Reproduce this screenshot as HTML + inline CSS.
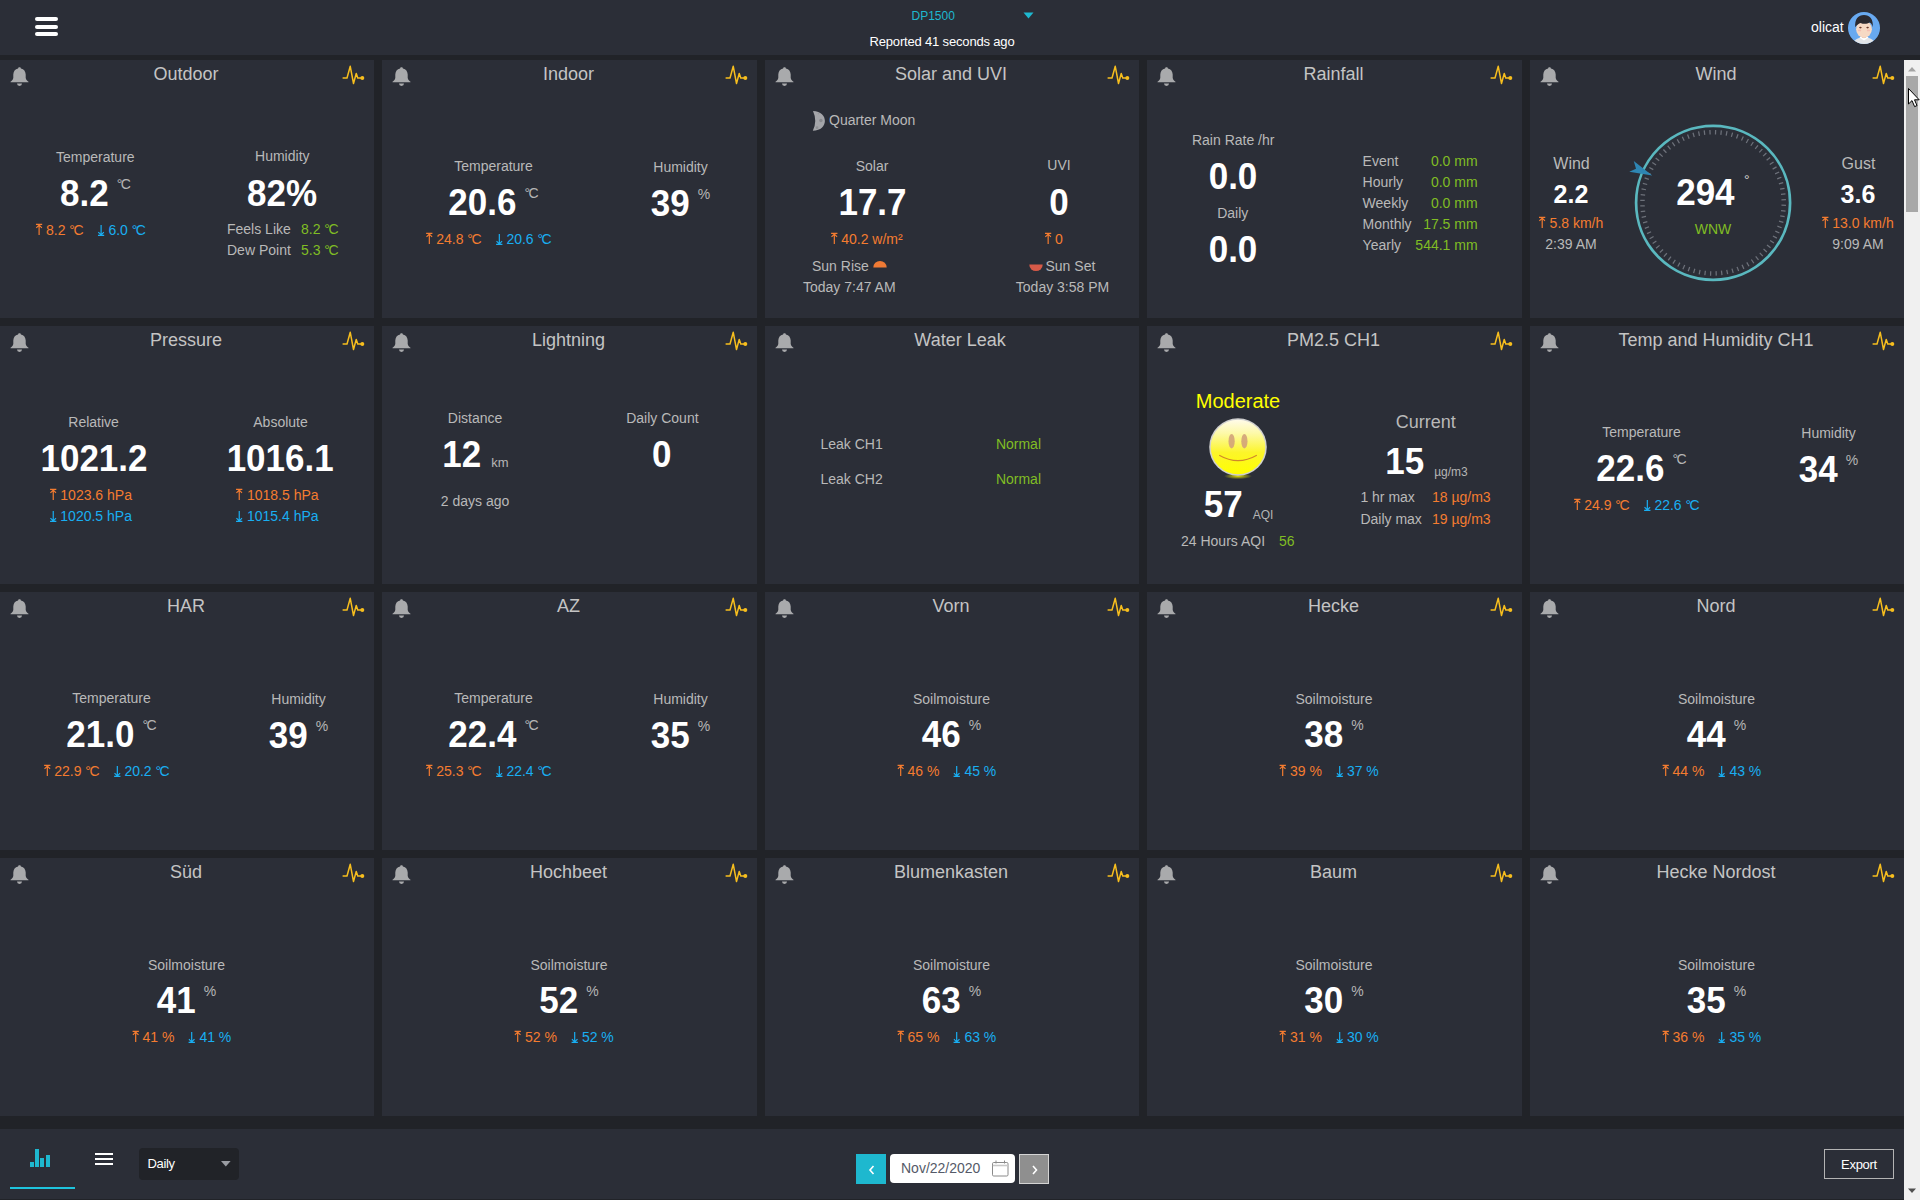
<!DOCTYPE html>
<html><head><meta charset="utf-8"><title>Dashboard</title>
<style>
*{margin:0;padding:0;box-sizing:border-box}
html,body{width:1920px;height:1200px;overflow:hidden;background:#212328;
font-family:"Liberation Sans",sans-serif;font-kerning:normal}
.t{position:absolute;white-space:nowrap;line-height:1}
.abs{position:absolute}
.ic{position:absolute;line-height:0}
.card{position:absolute;height:258px;background:#2b2e37}
.u{position:relative;font-weight:normal}
.dc{display:inline-block;letter-spacing:0}
.dc i{font-style:normal;margin-left:-1.6px}
.ar{display:inline-block;vertical-align:baseline;position:relative;top:0px}
.ar.dn{top:0.8px}
.ar path{stroke:currentColor;stroke-width:1.2;fill:none}
#hdr{position:absolute;left:0;top:0;width:1920px;height:55px;background:#2b2e37}
#sb{position:absolute;left:1904px;top:60px;width:16px;height:1140px;background:#f0f0f0}
#foot{position:absolute;left:0;top:1129px;width:1904px;height:70px;background:#2b2e37}
</style></head><body>
<div id="hdr"></div>
<div class="abs" style="left:35px;top:17px;width:23px;height:4px;border-radius:2px;background:#fff"></div>
<div class="abs" style="left:35px;top:25px;width:23px;height:4px;border-radius:2px;background:#fff"></div>
<div class="abs" style="left:35px;top:32px;width:23px;height:4px;border-radius:2px;background:#fff"></div>
<div class="t" style="left:911.5px;top:10px;font-size:12px;color:#1eb8cf">DP1500</div>
<svg class="abs" style="left:1023px;top:12px" width="11" height="7" viewBox="0 0 11 7"><path d="M0.5 0.5H10.5L5.5 6.5Z" fill="#1eb8cf"/></svg>
<div class="t" style="left:869.5px;top:35px;font-size:13px;color:#fff;letter-spacing:-0.17px">Reported 41 seconds ago</div>
<div class="t" style="left:1811px;top:20px;font-size:14px;color:#fff">olicat</div>
<div class="ic" style="left:1848px;top:12px"><svg width="32" height="32" viewBox="0 0 32 32"><defs><clipPath id="av"><circle cx="16" cy="16" r="16"/></clipPath></defs><g clip-path="url(#av)"><rect width="32" height="32" fill="#68a9f0"/><path d="M4 32C6 27.6 10.5 25.3 16 25.3S26 27.6 28 32Z" fill="#e3e5e8"/><path d="M11.5 25.6L16 28.5L20.5 25.6L19.5 24.6L16 26.4L12.5 24.6Z" fill="#ffffff"/><rect x="14" y="21.5" width="4" height="4.5" fill="#efcab2"/><ellipse cx="16" cy="17.2" rx="7.9" ry="8.4" fill="#f6d9c4"/><path d="M7.3 15.2C6.4 7.2 10.4 3 16 3S25.6 7.2 24.7 15.2C24.1 12.6 23 11.2 21.6 10.6C19.2 12.1 15.2 12.2 12.6 10.9C11 11.6 8.6 12.7 7.3 15.2Z" fill="#2b2a30"/><ellipse cx="12.4" cy="15.6" rx="1.3" ry="0.8" fill="#6e3c2c"/><ellipse cx="19.6" cy="15.6" rx="1.3" ry="0.8" fill="#6e3c2c"/><ellipse cx="11.6" cy="18.4" rx="1.6" ry="0.9" fill="#f2a8a2" opacity="0.55"/><ellipse cx="20.4" cy="18.4" rx="1.6" ry="0.9" fill="#f2a8a2" opacity="0.55"/></g></svg></div>
<div class="card" style="left:0px;top:60px;width:374px"></div>
<div class="ic" style="left:9.5px;top:66.5px"><svg width="19" height="19" viewBox="0 0 19 19"><path d="M9.5 0.3C8.6 0.3 8.2 0.9 8.1 1.4C5 2 3.4 4.4 3.3 7.4V10.8C3.2 12.6 1.8 13.8 0.5 14.7V15.3H18.5V14.7C17.2 13.8 15.8 12.6 15.7 10.8V7.4C15.6 4.4 14 2 10.9 1.4C10.8 0.9 10.4 0.3 9.5 0.3Z" fill="#a9aaac"/><path d="M7 16.6H12A2.5 2.3 0 0 1 7 16.6Z" fill="#a9aaac"/></svg></div>
<div class="ic" style="left:342px;top:65.3px"><svg width="24" height="20" viewBox="0 0 24 20"><path d="M0.6 13H5L8.25 1.3L11.5 18.5L14.25 8.4L15.75 13H20" fill="none" stroke="#f7be1e" stroke-width="1.5" stroke-linejoin="round" stroke-linecap="butt"/><circle cx="20.3" cy="13" r="2" fill="#f7be1e"/></svg></div>
<div class="t" style="left:186.00px;top:65.00px;font-size:18px;color:#c4c4c4;transform:translateX(-50%);">Outdoor</div>
<div class="t" style="left:95.30px;top:150.00px;font-size:14px;color:#b9b9b9;transform:translateX(-50%);">Temperature</div>
<div class="t" style="left:95.50px;top:176.00px;font-size:35px;font-weight:bold;color:#fff;transform:translateX(-50%) scaleY(1.04);transform-origin:50% 30px">8.2<span class="u" style="font-size:14px;top:-16px;margin-left:8px;color:#b5b5b5"><span class="dc">&deg;<i>C</i></span></span></div>
<div class="t" style="left:90.50px;top:223.00px;font-size:14px;transform:translateX(-50%)"><span style="color:#f47c30"><svg class="ar" width="7" height="12" viewBox="0 0 7 12"><path d="M0.3 1.3H6.7M3.5 1.6V12M0.7 4.9L3.5 2.1L6.3 4.9" /></svg> <span class="nm">8.2</span> <span class="dc">&deg;<i>C</i></span></span><span style="display:inline-block;width:14px"></span><span style="color:#19aef2"><svg class="ar dn" width="7" height="12" viewBox="0 0 7 12"><path d="M0.3 11.3H6.7M3.5 1V10.9M0.7 8.2L3.5 11L6.3 8.2" /></svg> <span class="nm">6.0</span> <span class="dc">&deg;<i>C</i></span></span></div>
<div class="t" style="left:282.30px;top:149.00px;font-size:14px;color:#b9b9b9;transform:translateX(-50%);">Humidity</div>
<div class="t" style="left:282.00px;top:176.00px;font-size:35px;color:#fff;font-weight:bold;transform:translateX(-50%) scaleY(1.04);transform-origin:50% 30px;">82%</div>
<div class="t" style="left:227.00px;top:222.00px;font-size:14px;color:#b9b9b9;">Feels Like</div>
<div class="t" style="left:227.00px;top:243.00px;font-size:14px;color:#b9b9b9;">Dew Point</div>
<div class="t" style="left:301.00px;top:222.00px;font-size:14px;color:#80bd24;">8.2 <span class="dc">&deg;<i>C</i></span></div>
<div class="t" style="left:301.00px;top:243.00px;font-size:14px;color:#80bd24;">5.3 <span class="dc">&deg;<i>C</i></span></div>
<div class="card" style="left:382px;top:60px;width:375px"></div>
<div class="ic" style="left:391.5px;top:66.5px"><svg width="19" height="19" viewBox="0 0 19 19"><path d="M9.5 0.3C8.6 0.3 8.2 0.9 8.1 1.4C5 2 3.4 4.4 3.3 7.4V10.8C3.2 12.6 1.8 13.8 0.5 14.7V15.3H18.5V14.7C17.2 13.8 15.8 12.6 15.7 10.8V7.4C15.6 4.4 14 2 10.9 1.4C10.8 0.9 10.4 0.3 9.5 0.3Z" fill="#a9aaac"/><path d="M7 16.6H12A2.5 2.3 0 0 1 7 16.6Z" fill="#a9aaac"/></svg></div>
<div class="ic" style="left:725px;top:65.3px"><svg width="24" height="20" viewBox="0 0 24 20"><path d="M0.6 13H5L8.25 1.3L11.5 18.5L14.25 8.4L15.75 13H20" fill="none" stroke="#f7be1e" stroke-width="1.5" stroke-linejoin="round" stroke-linecap="butt"/><circle cx="20.3" cy="13" r="2" fill="#f7be1e"/></svg></div>
<div class="t" style="left:568.50px;top:65.00px;font-size:18px;color:#c4c4c4;transform:translateX(-50%);">Indoor</div>
<div class="t" style="left:493.50px;top:159.00px;font-size:14px;color:#b9b9b9;transform:translateX(-50%);">Temperature</div>
<div class="t" style="left:493.50px;top:185.00px;font-size:35px;font-weight:bold;color:#fff;transform:translateX(-50%) scaleY(1.04);transform-origin:50% 30px">20.6<span class="u" style="font-size:14px;top:-16px;margin-left:8px;color:#b5b5b5"><span class="dc">&deg;<i>C</i></span></span></div>
<div class="t" style="left:488.50px;top:232.00px;font-size:14px;transform:translateX(-50%)"><span style="color:#f47c30"><svg class="ar" width="7" height="12" viewBox="0 0 7 12"><path d="M0.3 1.3H6.7M3.5 1.6V12M0.7 4.9L3.5 2.1L6.3 4.9" /></svg> <span class="nm">24.8</span> <span class="dc">&deg;<i>C</i></span></span><span style="display:inline-block;width:14px"></span><span style="color:#19aef2"><svg class="ar dn" width="7" height="12" viewBox="0 0 7 12"><path d="M0.3 11.3H6.7M3.5 1V10.9M0.7 8.2L3.5 11L6.3 8.2" /></svg> <span class="nm">20.6</span> <span class="dc">&deg;<i>C</i></span></span></div>
<div class="t" style="left:680.50px;top:160.00px;font-size:14px;color:#b9b9b9;transform:translateX(-50%);">Humidity</div>
<div class="t" style="left:680.50px;top:186.00px;font-size:35px;font-weight:bold;color:#fff;transform:translateX(-50%) scaleY(1.04);transform-origin:50% 30px">39<span class="u" style="font-size:14px;top:-16px;margin-left:8px;color:#b5b5b5">%</span></div>
<div class="card" style="left:765px;top:60px;width:374px"></div>
<div class="ic" style="left:774.5px;top:66.5px"><svg width="19" height="19" viewBox="0 0 19 19"><path d="M9.5 0.3C8.6 0.3 8.2 0.9 8.1 1.4C5 2 3.4 4.4 3.3 7.4V10.8C3.2 12.6 1.8 13.8 0.5 14.7V15.3H18.5V14.7C17.2 13.8 15.8 12.6 15.7 10.8V7.4C15.6 4.4 14 2 10.9 1.4C10.8 0.9 10.4 0.3 9.5 0.3Z" fill="#a9aaac"/><path d="M7 16.6H12A2.5 2.3 0 0 1 7 16.6Z" fill="#a9aaac"/></svg></div>
<div class="ic" style="left:1107px;top:65.3px"><svg width="24" height="20" viewBox="0 0 24 20"><path d="M0.6 13H5L8.25 1.3L11.5 18.5L14.25 8.4L15.75 13H20" fill="none" stroke="#f7be1e" stroke-width="1.5" stroke-linejoin="round" stroke-linecap="butt"/><circle cx="20.3" cy="13" r="2" fill="#f7be1e"/></svg></div>
<div class="t" style="left:951.00px;top:65.00px;font-size:18px;color:#c4c4c4;transform:translateX(-50%);">Solar and UVI</div>
<div class="ic" style="left:811.5px;top:110px"><svg width="14" height="22" viewBox="0 0 14 22"><path d="M1 1C9 1.3 13 6 12.9 11C12.8 16 9 20.5 0.8 20.8Q5.6 11 1 1Z" fill="#a4a5a9"/><circle cx="8.9" cy="10.5" r="1.7" fill="#88898d"/><circle cx="5" cy="17.7" r="1.4" fill="#8f9094"/><circle cx="6.5" cy="3.6" r="0.8" fill="#96979b"/></svg></div>
<div class="t" style="left:829.00px;top:113.00px;font-size:14px;color:#b9b9b9;">Quarter Moon</div>
<div class="t" style="left:872.00px;top:159.00px;font-size:14px;color:#b9b9b9;transform:translateX(-50%);">Solar</div>
<div class="t" style="left:872.50px;top:185.00px;font-size:35px;font-weight:bold;color:#fff;transform:translateX(-50%) scaleY(1.04);transform-origin:50% 30px">17.7</div>
<div class="t" style="left:866.50px;top:232.00px;font-size:14px;transform:translateX(-50%)"><span style="color:#f47c30"><svg class="ar" width="7" height="12" viewBox="0 0 7 12"><path d="M0.3 1.3H6.7M3.5 1.6V12M0.7 4.9L3.5 2.1L6.3 4.9" /></svg><span class="nm"> 40.2 w/m&sup2;</span></span></div>
<div class="t" style="left:1059.00px;top:158.00px;font-size:14px;color:#b9b9b9;transform:translateX(-50%);">UVI</div>
<div class="t" style="left:1059.00px;top:185.00px;font-size:35px;font-weight:bold;color:#fff;transform:translateX(-50%) scaleY(1.04);transform-origin:50% 30px">0</div>
<div class="t" style="left:1053.50px;top:232.00px;font-size:14px;transform:translateX(-50%)"><span style="color:#f47c30"><svg class="ar" width="7" height="12" viewBox="0 0 7 12"><path d="M0.3 1.3H6.7M3.5 1.6V12M0.7 4.9L3.5 2.1L6.3 4.9" /></svg><span class="nm"> 0</span></span></div>
<div class="t" style="left:812.00px;top:259.00px;font-size:14px;color:#b9b9b9;">Sun Rise</div>
<div class="ic" style="left:873px;top:259.5px"><svg width="14" height="8" viewBox="0 0 14 8"><path d="M0.3 7.6A6.7 6.7 0 0 1 13.7 7.6Z" fill="#ef7a35"/></svg></div>
<div class="t" style="left:849.30px;top:280.00px;font-size:14px;color:#b9b9b9;transform:translateX(-50%);">Today 7:47 AM</div>
<div class="ic" style="left:1028.5px;top:263.5px"><svg width="14" height="8" viewBox="0 0 14 8"><path d="M0.3 0.4A6.7 6.7 0 0 0 13.7 0.4Z" fill="#d75a48"/></svg></div>
<div class="t" style="left:1045.50px;top:259.00px;font-size:14px;color:#b9b9b9;">Sun Set</div>
<div class="t" style="left:1062.50px;top:280.00px;font-size:14px;color:#b9b9b9;transform:translateX(-50%);">Today 3:58 PM</div>
<div class="card" style="left:1147px;top:60px;width:375px"></div>
<div class="ic" style="left:1156.5px;top:66.5px"><svg width="19" height="19" viewBox="0 0 19 19"><path d="M9.5 0.3C8.6 0.3 8.2 0.9 8.1 1.4C5 2 3.4 4.4 3.3 7.4V10.8C3.2 12.6 1.8 13.8 0.5 14.7V15.3H18.5V14.7C17.2 13.8 15.8 12.6 15.7 10.8V7.4C15.6 4.4 14 2 10.9 1.4C10.8 0.9 10.4 0.3 9.5 0.3Z" fill="#a9aaac"/><path d="M7 16.6H12A2.5 2.3 0 0 1 7 16.6Z" fill="#a9aaac"/></svg></div>
<div class="ic" style="left:1490px;top:65.3px"><svg width="24" height="20" viewBox="0 0 24 20"><path d="M0.6 13H5L8.25 1.3L11.5 18.5L14.25 8.4L15.75 13H20" fill="none" stroke="#f7be1e" stroke-width="1.5" stroke-linejoin="round" stroke-linecap="butt"/><circle cx="20.3" cy="13" r="2" fill="#f7be1e"/></svg></div>
<div class="t" style="left:1333.50px;top:65.00px;font-size:18px;color:#c4c4c4;transform:translateX(-50%);">Rainfall</div>
<div class="t" style="left:1233.20px;top:133.00px;font-size:14px;color:#b9b9b9;transform:translateX(-50%);">Rain Rate /hr</div>
<div class="t" style="left:1233.00px;top:159.00px;font-size:35px;font-weight:bold;color:#fff;transform:translateX(-50%) scaleY(1.04);transform-origin:50% 30px">0.0</div>
<div class="t" style="left:1232.70px;top:206.00px;font-size:14px;color:#b9b9b9;transform:translateX(-50%);">Daily</div>
<div class="t" style="left:1233.00px;top:232.00px;font-size:35px;font-weight:bold;color:#fff;transform:translateX(-50%) scaleY(1.04);transform-origin:50% 30px">0.0</div>
<div class="t" style="left:1362.60px;top:154.00px;font-size:14px;color:#b9b9b9;">Event</div>
<div class="t" style="left:1477.60px;top:154.00px;font-size:14px;color:#80bd24;transform:translateX(-100%);">0.0 mm</div>
<div class="t" style="left:1362.60px;top:175.00px;font-size:14px;color:#b9b9b9;">Hourly</div>
<div class="t" style="left:1477.60px;top:175.00px;font-size:14px;color:#80bd24;transform:translateX(-100%);">0.0 mm</div>
<div class="t" style="left:1362.60px;top:196.00px;font-size:14px;color:#b9b9b9;">Weekly</div>
<div class="t" style="left:1477.60px;top:196.00px;font-size:14px;color:#80bd24;transform:translateX(-100%);">0.0 mm</div>
<div class="t" style="left:1362.60px;top:217.00px;font-size:14px;color:#b9b9b9;">Monthly</div>
<div class="t" style="left:1477.60px;top:217.00px;font-size:14px;color:#80bd24;transform:translateX(-100%);">17.5 mm</div>
<div class="t" style="left:1362.60px;top:238.00px;font-size:14px;color:#b9b9b9;">Yearly</div>
<div class="t" style="left:1477.60px;top:238.00px;font-size:14px;color:#80bd24;transform:translateX(-100%);">544.1 mm</div>
<div class="card" style="left:1530px;top:60px;width:374px"></div>
<div class="ic" style="left:1539.5px;top:66.5px"><svg width="19" height="19" viewBox="0 0 19 19"><path d="M9.5 0.3C8.6 0.3 8.2 0.9 8.1 1.4C5 2 3.4 4.4 3.3 7.4V10.8C3.2 12.6 1.8 13.8 0.5 14.7V15.3H18.5V14.7C17.2 13.8 15.8 12.6 15.7 10.8V7.4C15.6 4.4 14 2 10.9 1.4C10.8 0.9 10.4 0.3 9.5 0.3Z" fill="#a9aaac"/><path d="M7 16.6H12A2.5 2.3 0 0 1 7 16.6Z" fill="#a9aaac"/></svg></div>
<div class="ic" style="left:1872px;top:65.3px"><svg width="24" height="20" viewBox="0 0 24 20"><path d="M0.6 13H5L8.25 1.3L11.5 18.5L14.25 8.4L15.75 13H20" fill="none" stroke="#f7be1e" stroke-width="1.5" stroke-linejoin="round" stroke-linecap="butt"/><circle cx="20.3" cy="13" r="2" fill="#f7be1e"/></svg></div>
<div class="t" style="left:1716.00px;top:65.00px;font-size:18px;color:#c4c4c4;transform:translateX(-50%);">Wind</div>
<div class="t" style="left:1571.50px;top:156.00px;font-size:16px;color:#b9b9b9;transform:translateX(-50%);">Wind</div>
<div class="t" style="left:1571.00px;top:182.00px;font-size:25px;color:#fff;font-weight:bold;transform:translateX(-50%);">2.2</div>
<div class="t" style="left:1571.00px;top:216.00px;font-size:14px;transform:translateX(-50%)"><span style="color:#f47c30"><svg class="ar" width="7" height="12" viewBox="0 0 7 12"><path d="M0.3 1.3H6.7M3.5 1.6V12M0.7 4.9L3.5 2.1L6.3 4.9" /></svg><span class="nm"> 5.8 km/h</span></span></div>
<div class="t" style="left:1571.00px;top:237.00px;font-size:14px;color:#b9b9b9;transform:translateX(-50%);">2:39 AM</div>
<div class="t" style="left:1858.50px;top:156.00px;font-size:16px;color:#b9b9b9;transform:translateX(-50%);">Gust</div>
<div class="t" style="left:1858.00px;top:182.00px;font-size:25px;color:#fff;font-weight:bold;transform:translateX(-50%);">3.6</div>
<div class="t" style="left:1857.50px;top:216.00px;font-size:14px;transform:translateX(-50%)"><span style="color:#f47c30"><svg class="ar" width="7" height="12" viewBox="0 0 7 12"><path d="M0.3 1.3H6.7M3.5 1.6V12M0.7 4.9L3.5 2.1L6.3 4.9" /></svg><span class="nm"> 13.0 km/h</span></span></div>
<div class="t" style="left:1858.00px;top:237.00px;font-size:14px;color:#b9b9b9;transform:translateX(-50%);">9:09 AM</div>
<svg class="abs" style="left:0;top:0" width="1920" height="300"><circle cx="1713.1" cy="202.8" r="77" fill="none" stroke="#5ab8bf" stroke-width="2.7"/><path d="M1715.49 134.44L1715.64 129.94M1720.84 134.84L1721.35 130.37M1726.15 135.66L1727.01 131.24M1731.38 136.89L1732.58 132.55M1736.49 138.53L1738.03 134.30M1741.47 140.56L1743.33 136.46M1746.26 142.98L1748.44 139.04M1750.85 145.76L1753.34 142.01M1755.21 148.90L1757.98 145.35M1759.31 152.37L1762.35 149.05M1763.12 156.15L1766.42 153.08M1766.63 160.22L1770.15 157.42M1769.81 164.55L1773.54 162.03M1772.63 169.12L1776.55 166.90M1775.09 173.89L1779.17 171.99M1777.17 178.85L1781.38 177.27M1778.85 183.95L1783.18 182.71M1780.13 189.16L1784.54 188.27M1780.99 194.46L1785.46 193.92M1781.43 199.82L1785.93 199.62M1781.46 205.19L1785.96 205.34M1781.06 210.54L1785.53 211.05M1780.24 215.85L1784.66 216.71M1779.01 221.08L1783.35 222.28M1777.37 226.19L1781.60 227.73M1775.34 231.17L1779.44 233.03M1772.92 235.96L1776.86 238.14M1770.14 240.55L1773.89 243.04M1767.00 244.91L1770.55 247.68M1763.53 249.01L1766.85 252.05M1759.75 252.82L1762.82 256.12M1755.68 256.33L1758.48 259.85M1751.35 259.51L1753.87 263.24M1746.78 262.33L1749.00 266.25M1742.01 264.79L1743.91 268.87M1737.05 266.87L1738.63 271.08M1731.95 268.55L1733.19 272.88M1726.74 269.83L1727.63 274.24M1721.44 270.69L1721.98 275.16M1716.08 271.13L1716.28 275.63M1710.71 271.16L1710.56 275.66M1705.36 270.76L1704.85 275.23M1700.05 269.94L1699.19 274.36M1694.82 268.71L1693.62 273.05M1689.71 267.07L1688.17 271.30M1684.73 265.04L1682.87 269.14M1679.94 262.62L1677.76 266.56M1675.35 259.84L1672.86 263.59M1670.99 256.70L1668.22 260.25M1666.89 253.23L1663.85 256.55M1663.08 249.45L1659.78 252.52M1659.57 245.38L1656.05 248.18M1656.39 241.05L1652.66 243.57M1653.57 236.48L1649.65 238.70M1651.11 231.71L1647.03 233.61M1649.03 226.75L1644.82 228.33M1647.35 221.65L1643.02 222.89M1646.07 216.44L1641.66 217.33M1645.21 211.14L1640.74 211.68M1644.77 205.78L1640.27 205.98M1644.74 200.41L1640.24 200.26M1645.14 195.06L1640.67 194.55M1645.96 189.75L1641.54 188.89M1647.19 184.52L1642.85 183.32M1648.83 179.41L1644.60 177.87M1650.86 174.43L1646.76 172.57M1653.28 169.64L1649.34 167.46M1656.06 165.05L1652.31 162.56M1659.20 160.69L1655.65 157.92M1662.67 156.59L1659.35 153.55M1666.45 152.78L1663.38 149.48M1670.52 149.27L1667.72 145.75M1674.85 146.09L1672.33 142.36M1679.42 143.27L1677.20 139.35M1684.19 140.81L1682.29 136.73M1689.15 138.73L1687.57 134.52M1694.25 137.05L1693.01 132.72M1699.46 135.77L1698.57 131.36M1704.76 134.91L1704.22 130.44M1710.12 134.47L1709.92 129.97" stroke="#6d717a" stroke-width="1.25"/><path d="M1633.75 161L1652.25 175.5L1629.25 171.75L1636 168.75Z" fill="#2e86b3"/></svg>
<div class="t" style="left:1705.40px;top:175.00px;font-size:35px;color:#fff;font-weight:bold;transform:translateX(-50%) scaleY(1.04);transform-origin:50% 30px;">294</div>
<div class="t" style="left:1746.80px;top:173.00px;font-size:14px;color:#d0d0d0;transform:translateX(-50%);">&deg;</div>
<div class="t" style="left:1713.00px;top:222.00px;font-size:14px;color:#80bd24;transform:translateX(-50%);">WNW</div>
<div class="card" style="left:0px;top:326px;width:374px"></div>
<div class="ic" style="left:9.5px;top:332.5px"><svg width="19" height="19" viewBox="0 0 19 19"><path d="M9.5 0.3C8.6 0.3 8.2 0.9 8.1 1.4C5 2 3.4 4.4 3.3 7.4V10.8C3.2 12.6 1.8 13.8 0.5 14.7V15.3H18.5V14.7C17.2 13.8 15.8 12.6 15.7 10.8V7.4C15.6 4.4 14 2 10.9 1.4C10.8 0.9 10.4 0.3 9.5 0.3Z" fill="#a9aaac"/><path d="M7 16.6H12A2.5 2.3 0 0 1 7 16.6Z" fill="#a9aaac"/></svg></div>
<div class="ic" style="left:342px;top:331.3px"><svg width="24" height="20" viewBox="0 0 24 20"><path d="M0.6 13H5L8.25 1.3L11.5 18.5L14.25 8.4L15.75 13H20" fill="none" stroke="#f7be1e" stroke-width="1.5" stroke-linejoin="round" stroke-linecap="butt"/><circle cx="20.3" cy="13" r="2" fill="#f7be1e"/></svg></div>
<div class="t" style="left:186.00px;top:331.00px;font-size:18px;color:#c4c4c4;transform:translateX(-50%);">Pressure</div>
<div class="t" style="left:93.60px;top:415.00px;font-size:14px;color:#b9b9b9;transform:translateX(-50%);">Relative</div>
<div class="t" style="left:94.00px;top:441.00px;font-size:35px;font-weight:bold;color:#fff;transform:translateX(-50%) scaleY(1.04);transform-origin:50% 30px">1021.2</div>
<div class="t" style="left:90.70px;top:488.00px;font-size:14px;transform:translateX(-50%)"><span style="color:#f47c30"><svg class="ar" width="7" height="12" viewBox="0 0 7 12"><path d="M0.3 1.3H6.7M3.5 1.6V12M0.7 4.9L3.5 2.1L6.3 4.9" /></svg><span class="nm"> 1023.6 hPa</span></span></div>
<div class="t" style="left:90.70px;top:509.00px;font-size:14px;transform:translateX(-50%)"><span style="color:#19aef2"><svg class="ar dn" width="7" height="12" viewBox="0 0 7 12"><path d="M0.3 11.3H6.7M3.5 1V10.9M0.7 8.2L3.5 11L6.3 8.2" /></svg><span class="nm"> 1020.5 hPa</span></span></div>
<div class="t" style="left:280.50px;top:415.00px;font-size:14px;color:#b9b9b9;transform:translateX(-50%);">Absolute</div>
<div class="t" style="left:280.20px;top:441.00px;font-size:35px;font-weight:bold;color:#fff;transform:translateX(-50%) scaleY(1.04);transform-origin:50% 30px">1016.1</div>
<div class="t" style="left:277.30px;top:488.00px;font-size:14px;transform:translateX(-50%)"><span style="color:#f47c30"><svg class="ar" width="7" height="12" viewBox="0 0 7 12"><path d="M0.3 1.3H6.7M3.5 1.6V12M0.7 4.9L3.5 2.1L6.3 4.9" /></svg><span class="nm"> 1018.5 hPa</span></span></div>
<div class="t" style="left:277.30px;top:509.00px;font-size:14px;transform:translateX(-50%)"><span style="color:#19aef2"><svg class="ar dn" width="7" height="12" viewBox="0 0 7 12"><path d="M0.3 11.3H6.7M3.5 1V10.9M0.7 8.2L3.5 11L6.3 8.2" /></svg><span class="nm"> 1015.4 hPa</span></span></div>
<div class="card" style="left:382px;top:326px;width:375px"></div>
<div class="ic" style="left:391.5px;top:332.5px"><svg width="19" height="19" viewBox="0 0 19 19"><path d="M9.5 0.3C8.6 0.3 8.2 0.9 8.1 1.4C5 2 3.4 4.4 3.3 7.4V10.8C3.2 12.6 1.8 13.8 0.5 14.7V15.3H18.5V14.7C17.2 13.8 15.8 12.6 15.7 10.8V7.4C15.6 4.4 14 2 10.9 1.4C10.8 0.9 10.4 0.3 9.5 0.3Z" fill="#a9aaac"/><path d="M7 16.6H12A2.5 2.3 0 0 1 7 16.6Z" fill="#a9aaac"/></svg></div>
<div class="ic" style="left:725px;top:331.3px"><svg width="24" height="20" viewBox="0 0 24 20"><path d="M0.6 13H5L8.25 1.3L11.5 18.5L14.25 8.4L15.75 13H20" fill="none" stroke="#f7be1e" stroke-width="1.5" stroke-linejoin="round" stroke-linecap="butt"/><circle cx="20.3" cy="13" r="2" fill="#f7be1e"/></svg></div>
<div class="t" style="left:568.50px;top:331.00px;font-size:18px;color:#c4c4c4;transform:translateX(-50%);">Lightning</div>
<div class="t" style="left:475.00px;top:411.00px;font-size:14px;color:#b9b9b9;transform:translateX(-50%);">Distance</div>
<div class="t" style="left:475.5px;top:437.00px;font-size:35px;font-weight:bold;color:#fff;transform:translateX(-50%) scaleY(1.04);transform-origin:50% 30px">12<span style="font-size:13px;font-weight:normal;color:#b5b5b5;margin-left:10px">km</span></div>
<div class="t" style="left:475.00px;top:494.00px;font-size:14px;color:#b9b9b9;transform:translateX(-50%);">2 days ago</div>
<div class="t" style="left:662.40px;top:411.00px;font-size:14px;color:#b9b9b9;transform:translateX(-50%);">Daily Count</div>
<div class="t" style="left:661.80px;top:437.00px;font-size:35px;font-weight:bold;color:#fff;transform:translateX(-50%) scaleY(1.04);transform-origin:50% 30px">0</div>
<div class="card" style="left:765px;top:326px;width:374px"></div>
<div class="ic" style="left:774.5px;top:332.5px"><svg width="19" height="19" viewBox="0 0 19 19"><path d="M9.5 0.3C8.6 0.3 8.2 0.9 8.1 1.4C5 2 3.4 4.4 3.3 7.4V10.8C3.2 12.6 1.8 13.8 0.5 14.7V15.3H18.5V14.7C17.2 13.8 15.8 12.6 15.7 10.8V7.4C15.6 4.4 14 2 10.9 1.4C10.8 0.9 10.4 0.3 9.5 0.3Z" fill="#a9aaac"/><path d="M7 16.6H12A2.5 2.3 0 0 1 7 16.6Z" fill="#a9aaac"/></svg></div>
<div class="t" style="left:960.00px;top:331.00px;font-size:18px;color:#c4c4c4;transform:translateX(-50%);">Water Leak</div>
<div class="t" style="left:820.50px;top:437.00px;font-size:14px;color:#b9b9b9;">Leak CH1</div>
<div class="t" style="left:820.50px;top:472.00px;font-size:14px;color:#b9b9b9;">Leak CH2</div>
<div class="t" style="left:995.90px;top:437.00px;font-size:14px;color:#80bd24;">Normal</div>
<div class="t" style="left:995.90px;top:472.00px;font-size:14px;color:#80bd24;">Normal</div>
<div class="card" style="left:1147px;top:326px;width:375px"></div>
<div class="ic" style="left:1156.5px;top:332.5px"><svg width="19" height="19" viewBox="0 0 19 19"><path d="M9.5 0.3C8.6 0.3 8.2 0.9 8.1 1.4C5 2 3.4 4.4 3.3 7.4V10.8C3.2 12.6 1.8 13.8 0.5 14.7V15.3H18.5V14.7C17.2 13.8 15.8 12.6 15.7 10.8V7.4C15.6 4.4 14 2 10.9 1.4C10.8 0.9 10.4 0.3 9.5 0.3Z" fill="#a9aaac"/><path d="M7 16.6H12A2.5 2.3 0 0 1 7 16.6Z" fill="#a9aaac"/></svg></div>
<div class="ic" style="left:1490px;top:331.3px"><svg width="24" height="20" viewBox="0 0 24 20"><path d="M0.6 13H5L8.25 1.3L11.5 18.5L14.25 8.4L15.75 13H20" fill="none" stroke="#f7be1e" stroke-width="1.5" stroke-linejoin="round" stroke-linecap="butt"/><circle cx="20.3" cy="13" r="2" fill="#f7be1e"/></svg></div>
<div class="t" style="left:1333.50px;top:331.00px;font-size:18px;color:#c4c4c4;transform:translateX(-50%);">PM2.5 CH1</div>
<div class="t" style="left:1238.00px;top:391.00px;font-size:20px;color:#ffff00;transform:translateX(-50%);">Moderate</div>
<div class="ic" style="left:1206px;top:414.5px"><svg width="64" height="66" viewBox="0 0 64 66"><defs><linearGradient id="sg" x1="0" y1="0" x2="0" y2="1"><stop offset="0" stop-color="#fffbea"/><stop offset="0.25" stop-color="#fdf9a8"/><stop offset="0.6" stop-color="#fcf52a"/><stop offset="1" stop-color="#ffff00"/></linearGradient><radialGradient id="sh" cx="50%" cy="50%" r="50%"><stop offset="0" stop-color="#e8e800" stop-opacity="0.95"/><stop offset="1" stop-color="#e8e800" stop-opacity="0"/></radialGradient></defs><ellipse cx="32" cy="61.2" rx="14" ry="3" fill="url(#sh)"/><circle cx="32" cy="32" r="28.8" fill="#cfcfcf"/><circle cx="32" cy="32" r="27.3" fill="url(#sg)"/><ellipse cx="25.6" cy="26.2" rx="3.1" ry="7.3" fill="#d2a27a" opacity="0.9"/><ellipse cx="38.4" cy="26.2" rx="3.1" ry="7.3" fill="#d2a27a" opacity="0.9"/><path d="M13.2 40.2Q32 51 50.8 40.2" fill="none" stroke="#d0892a" stroke-width="1.1"/></svg></div>
<div class="t" style="left:1238.5px;top:487.00px;font-size:35px;font-weight:bold;color:#fff;transform:translateX(-50%) scaleY(1.04);transform-origin:50% 30px">57<span style="font-size:12px;font-weight:normal;color:#b5b5b5;margin-left:10px;position:relative;top:1.5px">AQI</span></div>
<div class="t" style="left:1181.00px;top:534.00px;font-size:14px;color:#b9b9b9;">24 Hours AQI</div>
<div class="t" style="left:1279.00px;top:534.00px;font-size:14px;color:#80bd24;">56</div>
<div class="t" style="left:1425.80px;top:413.00px;font-size:18px;color:#b9b9b9;transform:translateX(-50%);">Current</div>
<div class="t" style="left:1426.5px;top:444.00px;font-size:35px;font-weight:bold;color:#fff;transform:translateX(-50%) scaleY(1.04);transform-origin:50% 30px">15<span style="font-size:12px;font-weight:normal;color:#b5b5b5;margin-left:10px;position:relative;top:1.5px">&micro;g/m3</span></div>
<div class="t" style="left:1360.40px;top:490.00px;font-size:14px;color:#b9b9b9;">1 hr max</div>
<div class="t" style="left:1360.40px;top:512.00px;font-size:14px;color:#b9b9b9;">Daily max</div>
<div class="t" style="left:1432.00px;top:490.00px;font-size:14px;color:#f47c30;">18 &micro;g/m3</div>
<div class="t" style="left:1432.00px;top:512.00px;font-size:14px;color:#f47c30;">19 &micro;g/m3</div>
<div class="card" style="left:1530px;top:326px;width:374px"></div>
<div class="ic" style="left:1539.5px;top:332.5px"><svg width="19" height="19" viewBox="0 0 19 19"><path d="M9.5 0.3C8.6 0.3 8.2 0.9 8.1 1.4C5 2 3.4 4.4 3.3 7.4V10.8C3.2 12.6 1.8 13.8 0.5 14.7V15.3H18.5V14.7C17.2 13.8 15.8 12.6 15.7 10.8V7.4C15.6 4.4 14 2 10.9 1.4C10.8 0.9 10.4 0.3 9.5 0.3Z" fill="#a9aaac"/><path d="M7 16.6H12A2.5 2.3 0 0 1 7 16.6Z" fill="#a9aaac"/></svg></div>
<div class="ic" style="left:1872px;top:331.3px"><svg width="24" height="20" viewBox="0 0 24 20"><path d="M0.6 13H5L8.25 1.3L11.5 18.5L14.25 8.4L15.75 13H20" fill="none" stroke="#f7be1e" stroke-width="1.5" stroke-linejoin="round" stroke-linecap="butt"/><circle cx="20.3" cy="13" r="2" fill="#f7be1e"/></svg></div>
<div class="t" style="left:1716.00px;top:331.00px;font-size:18px;color:#c4c4c4;transform:translateX(-50%);">Temp and Humidity CH1</div>
<div class="t" style="left:1641.50px;top:425.00px;font-size:14px;color:#b9b9b9;transform:translateX(-50%);">Temperature</div>
<div class="t" style="left:1641.50px;top:451.00px;font-size:35px;font-weight:bold;color:#fff;transform:translateX(-50%) scaleY(1.04);transform-origin:50% 30px">22.6<span class="u" style="font-size:14px;top:-16px;margin-left:8px;color:#b5b5b5"><span class="dc">&deg;<i>C</i></span></span></div>
<div class="t" style="left:1636.50px;top:498.00px;font-size:14px;transform:translateX(-50%)"><span style="color:#f47c30"><svg class="ar" width="7" height="12" viewBox="0 0 7 12"><path d="M0.3 1.3H6.7M3.5 1.6V12M0.7 4.9L3.5 2.1L6.3 4.9" /></svg> <span class="nm">24.9</span> <span class="dc">&deg;<i>C</i></span></span><span style="display:inline-block;width:14px"></span><span style="color:#19aef2"><svg class="ar dn" width="7" height="12" viewBox="0 0 7 12"><path d="M0.3 11.3H6.7M3.5 1V10.9M0.7 8.2L3.5 11L6.3 8.2" /></svg> <span class="nm">22.6</span> <span class="dc">&deg;<i>C</i></span></span></div>
<div class="t" style="left:1828.50px;top:426.00px;font-size:14px;color:#b9b9b9;transform:translateX(-50%);">Humidity</div>
<div class="t" style="left:1828.50px;top:452.00px;font-size:35px;font-weight:bold;color:#fff;transform:translateX(-50%) scaleY(1.04);transform-origin:50% 30px">34<span class="u" style="font-size:14px;top:-16px;margin-left:8px;color:#b5b5b5">%</span></div>
<div class="card" style="left:0px;top:592px;width:374px"></div>
<div class="ic" style="left:9.5px;top:598.5px"><svg width="19" height="19" viewBox="0 0 19 19"><path d="M9.5 0.3C8.6 0.3 8.2 0.9 8.1 1.4C5 2 3.4 4.4 3.3 7.4V10.8C3.2 12.6 1.8 13.8 0.5 14.7V15.3H18.5V14.7C17.2 13.8 15.8 12.6 15.7 10.8V7.4C15.6 4.4 14 2 10.9 1.4C10.8 0.9 10.4 0.3 9.5 0.3Z" fill="#a9aaac"/><path d="M7 16.6H12A2.5 2.3 0 0 1 7 16.6Z" fill="#a9aaac"/></svg></div>
<div class="ic" style="left:342px;top:597.3px"><svg width="24" height="20" viewBox="0 0 24 20"><path d="M0.6 13H5L8.25 1.3L11.5 18.5L14.25 8.4L15.75 13H20" fill="none" stroke="#f7be1e" stroke-width="1.5" stroke-linejoin="round" stroke-linecap="butt"/><circle cx="20.3" cy="13" r="2" fill="#f7be1e"/></svg></div>
<div class="t" style="left:186.00px;top:597.00px;font-size:18px;color:#c4c4c4;transform:translateX(-50%);">HAR</div>
<div class="t" style="left:111.50px;top:691.00px;font-size:14px;color:#b9b9b9;transform:translateX(-50%);">Temperature</div>
<div class="t" style="left:111.50px;top:717.00px;font-size:35px;font-weight:bold;color:#fff;transform:translateX(-50%) scaleY(1.04);transform-origin:50% 30px">21.0<span class="u" style="font-size:14px;top:-16px;margin-left:8px;color:#b5b5b5"><span class="dc">&deg;<i>C</i></span></span></div>
<div class="t" style="left:106.50px;top:764.00px;font-size:14px;transform:translateX(-50%)"><span style="color:#f47c30"><svg class="ar" width="7" height="12" viewBox="0 0 7 12"><path d="M0.3 1.3H6.7M3.5 1.6V12M0.7 4.9L3.5 2.1L6.3 4.9" /></svg> <span class="nm">22.9</span> <span class="dc">&deg;<i>C</i></span></span><span style="display:inline-block;width:14px"></span><span style="color:#19aef2"><svg class="ar dn" width="7" height="12" viewBox="0 0 7 12"><path d="M0.3 11.3H6.7M3.5 1V10.9M0.7 8.2L3.5 11L6.3 8.2" /></svg> <span class="nm">20.2</span> <span class="dc">&deg;<i>C</i></span></span></div>
<div class="t" style="left:298.50px;top:692.00px;font-size:14px;color:#b9b9b9;transform:translateX(-50%);">Humidity</div>
<div class="t" style="left:298.50px;top:718.00px;font-size:35px;font-weight:bold;color:#fff;transform:translateX(-50%) scaleY(1.04);transform-origin:50% 30px">39<span class="u" style="font-size:14px;top:-16px;margin-left:8px;color:#b5b5b5">%</span></div>
<div class="card" style="left:382px;top:592px;width:375px"></div>
<div class="ic" style="left:391.5px;top:598.5px"><svg width="19" height="19" viewBox="0 0 19 19"><path d="M9.5 0.3C8.6 0.3 8.2 0.9 8.1 1.4C5 2 3.4 4.4 3.3 7.4V10.8C3.2 12.6 1.8 13.8 0.5 14.7V15.3H18.5V14.7C17.2 13.8 15.8 12.6 15.7 10.8V7.4C15.6 4.4 14 2 10.9 1.4C10.8 0.9 10.4 0.3 9.5 0.3Z" fill="#a9aaac"/><path d="M7 16.6H12A2.5 2.3 0 0 1 7 16.6Z" fill="#a9aaac"/></svg></div>
<div class="ic" style="left:725px;top:597.3px"><svg width="24" height="20" viewBox="0 0 24 20"><path d="M0.6 13H5L8.25 1.3L11.5 18.5L14.25 8.4L15.75 13H20" fill="none" stroke="#f7be1e" stroke-width="1.5" stroke-linejoin="round" stroke-linecap="butt"/><circle cx="20.3" cy="13" r="2" fill="#f7be1e"/></svg></div>
<div class="t" style="left:568.50px;top:597.00px;font-size:18px;color:#c4c4c4;transform:translateX(-50%);">AZ</div>
<div class="t" style="left:493.50px;top:691.00px;font-size:14px;color:#b9b9b9;transform:translateX(-50%);">Temperature</div>
<div class="t" style="left:493.50px;top:717.00px;font-size:35px;font-weight:bold;color:#fff;transform:translateX(-50%) scaleY(1.04);transform-origin:50% 30px">22.4<span class="u" style="font-size:14px;top:-16px;margin-left:8px;color:#b5b5b5"><span class="dc">&deg;<i>C</i></span></span></div>
<div class="t" style="left:488.50px;top:764.00px;font-size:14px;transform:translateX(-50%)"><span style="color:#f47c30"><svg class="ar" width="7" height="12" viewBox="0 0 7 12"><path d="M0.3 1.3H6.7M3.5 1.6V12M0.7 4.9L3.5 2.1L6.3 4.9" /></svg> <span class="nm">25.3</span> <span class="dc">&deg;<i>C</i></span></span><span style="display:inline-block;width:14px"></span><span style="color:#19aef2"><svg class="ar dn" width="7" height="12" viewBox="0 0 7 12"><path d="M0.3 11.3H6.7M3.5 1V10.9M0.7 8.2L3.5 11L6.3 8.2" /></svg> <span class="nm">22.4</span> <span class="dc">&deg;<i>C</i></span></span></div>
<div class="t" style="left:680.50px;top:692.00px;font-size:14px;color:#b9b9b9;transform:translateX(-50%);">Humidity</div>
<div class="t" style="left:680.50px;top:718.00px;font-size:35px;font-weight:bold;color:#fff;transform:translateX(-50%) scaleY(1.04);transform-origin:50% 30px">35<span class="u" style="font-size:14px;top:-16px;margin-left:8px;color:#b5b5b5">%</span></div>
<div class="card" style="left:765px;top:592px;width:374px"></div>
<div class="ic" style="left:774.5px;top:598.5px"><svg width="19" height="19" viewBox="0 0 19 19"><path d="M9.5 0.3C8.6 0.3 8.2 0.9 8.1 1.4C5 2 3.4 4.4 3.3 7.4V10.8C3.2 12.6 1.8 13.8 0.5 14.7V15.3H18.5V14.7C17.2 13.8 15.8 12.6 15.7 10.8V7.4C15.6 4.4 14 2 10.9 1.4C10.8 0.9 10.4 0.3 9.5 0.3Z" fill="#a9aaac"/><path d="M7 16.6H12A2.5 2.3 0 0 1 7 16.6Z" fill="#a9aaac"/></svg></div>
<div class="ic" style="left:1107px;top:597.3px"><svg width="24" height="20" viewBox="0 0 24 20"><path d="M0.6 13H5L8.25 1.3L11.5 18.5L14.25 8.4L15.75 13H20" fill="none" stroke="#f7be1e" stroke-width="1.5" stroke-linejoin="round" stroke-linecap="butt"/><circle cx="20.3" cy="13" r="2" fill="#f7be1e"/></svg></div>
<div class="t" style="left:951.00px;top:597.00px;font-size:18px;color:#c4c4c4;transform:translateX(-50%);">Vorn</div>
<div class="t" style="left:951.50px;top:692.00px;font-size:14px;color:#b9b9b9;transform:translateX(-50%);">Soilmoisture</div>
<div class="t" style="left:951.50px;top:717.00px;font-size:35px;font-weight:bold;color:#fff;transform:translateX(-50%) scaleY(1.04);transform-origin:50% 30px">46<span class="u" style="font-size:14px;top:-16px;margin-left:8px;color:#b5b5b5">%</span></div>
<div class="t" style="left:946.50px;top:764.00px;font-size:14px;transform:translateX(-50%)"><span style="color:#f47c30"><svg class="ar" width="7" height="12" viewBox="0 0 7 12"><path d="M0.3 1.3H6.7M3.5 1.6V12M0.7 4.9L3.5 2.1L6.3 4.9" /></svg> <span class="nm">46</span> %</span><span style="display:inline-block;width:14px"></span><span style="color:#19aef2"><svg class="ar dn" width="7" height="12" viewBox="0 0 7 12"><path d="M0.3 11.3H6.7M3.5 1V10.9M0.7 8.2L3.5 11L6.3 8.2" /></svg> <span class="nm">45</span> %</span></div>
<div class="card" style="left:1147px;top:592px;width:375px"></div>
<div class="ic" style="left:1156.5px;top:598.5px"><svg width="19" height="19" viewBox="0 0 19 19"><path d="M9.5 0.3C8.6 0.3 8.2 0.9 8.1 1.4C5 2 3.4 4.4 3.3 7.4V10.8C3.2 12.6 1.8 13.8 0.5 14.7V15.3H18.5V14.7C17.2 13.8 15.8 12.6 15.7 10.8V7.4C15.6 4.4 14 2 10.9 1.4C10.8 0.9 10.4 0.3 9.5 0.3Z" fill="#a9aaac"/><path d="M7 16.6H12A2.5 2.3 0 0 1 7 16.6Z" fill="#a9aaac"/></svg></div>
<div class="ic" style="left:1490px;top:597.3px"><svg width="24" height="20" viewBox="0 0 24 20"><path d="M0.6 13H5L8.25 1.3L11.5 18.5L14.25 8.4L15.75 13H20" fill="none" stroke="#f7be1e" stroke-width="1.5" stroke-linejoin="round" stroke-linecap="butt"/><circle cx="20.3" cy="13" r="2" fill="#f7be1e"/></svg></div>
<div class="t" style="left:1333.50px;top:597.00px;font-size:18px;color:#c4c4c4;transform:translateX(-50%);">Hecke</div>
<div class="t" style="left:1334.00px;top:692.00px;font-size:14px;color:#b9b9b9;transform:translateX(-50%);">Soilmoisture</div>
<div class="t" style="left:1334.00px;top:717.00px;font-size:35px;font-weight:bold;color:#fff;transform:translateX(-50%) scaleY(1.04);transform-origin:50% 30px">38<span class="u" style="font-size:14px;top:-16px;margin-left:8px;color:#b5b5b5">%</span></div>
<div class="t" style="left:1329.00px;top:764.00px;font-size:14px;transform:translateX(-50%)"><span style="color:#f47c30"><svg class="ar" width="7" height="12" viewBox="0 0 7 12"><path d="M0.3 1.3H6.7M3.5 1.6V12M0.7 4.9L3.5 2.1L6.3 4.9" /></svg> <span class="nm">39</span> %</span><span style="display:inline-block;width:14px"></span><span style="color:#19aef2"><svg class="ar dn" width="7" height="12" viewBox="0 0 7 12"><path d="M0.3 11.3H6.7M3.5 1V10.9M0.7 8.2L3.5 11L6.3 8.2" /></svg> <span class="nm">37</span> %</span></div>
<div class="card" style="left:1530px;top:592px;width:374px"></div>
<div class="ic" style="left:1539.5px;top:598.5px"><svg width="19" height="19" viewBox="0 0 19 19"><path d="M9.5 0.3C8.6 0.3 8.2 0.9 8.1 1.4C5 2 3.4 4.4 3.3 7.4V10.8C3.2 12.6 1.8 13.8 0.5 14.7V15.3H18.5V14.7C17.2 13.8 15.8 12.6 15.7 10.8V7.4C15.6 4.4 14 2 10.9 1.4C10.8 0.9 10.4 0.3 9.5 0.3Z" fill="#a9aaac"/><path d="M7 16.6H12A2.5 2.3 0 0 1 7 16.6Z" fill="#a9aaac"/></svg></div>
<div class="ic" style="left:1872px;top:597.3px"><svg width="24" height="20" viewBox="0 0 24 20"><path d="M0.6 13H5L8.25 1.3L11.5 18.5L14.25 8.4L15.75 13H20" fill="none" stroke="#f7be1e" stroke-width="1.5" stroke-linejoin="round" stroke-linecap="butt"/><circle cx="20.3" cy="13" r="2" fill="#f7be1e"/></svg></div>
<div class="t" style="left:1716.00px;top:597.00px;font-size:18px;color:#c4c4c4;transform:translateX(-50%);">Nord</div>
<div class="t" style="left:1716.50px;top:692.00px;font-size:14px;color:#b9b9b9;transform:translateX(-50%);">Soilmoisture</div>
<div class="t" style="left:1716.50px;top:717.00px;font-size:35px;font-weight:bold;color:#fff;transform:translateX(-50%) scaleY(1.04);transform-origin:50% 30px">44<span class="u" style="font-size:14px;top:-16px;margin-left:8px;color:#b5b5b5">%</span></div>
<div class="t" style="left:1711.50px;top:764.00px;font-size:14px;transform:translateX(-50%)"><span style="color:#f47c30"><svg class="ar" width="7" height="12" viewBox="0 0 7 12"><path d="M0.3 1.3H6.7M3.5 1.6V12M0.7 4.9L3.5 2.1L6.3 4.9" /></svg> <span class="nm">44</span> %</span><span style="display:inline-block;width:14px"></span><span style="color:#19aef2"><svg class="ar dn" width="7" height="12" viewBox="0 0 7 12"><path d="M0.3 11.3H6.7M3.5 1V10.9M0.7 8.2L3.5 11L6.3 8.2" /></svg> <span class="nm">43</span> %</span></div>
<div class="card" style="left:0px;top:858px;width:374px"></div>
<div class="ic" style="left:9.5px;top:864.5px"><svg width="19" height="19" viewBox="0 0 19 19"><path d="M9.5 0.3C8.6 0.3 8.2 0.9 8.1 1.4C5 2 3.4 4.4 3.3 7.4V10.8C3.2 12.6 1.8 13.8 0.5 14.7V15.3H18.5V14.7C17.2 13.8 15.8 12.6 15.7 10.8V7.4C15.6 4.4 14 2 10.9 1.4C10.8 0.9 10.4 0.3 9.5 0.3Z" fill="#a9aaac"/><path d="M7 16.6H12A2.5 2.3 0 0 1 7 16.6Z" fill="#a9aaac"/></svg></div>
<div class="ic" style="left:342px;top:863.3px"><svg width="24" height="20" viewBox="0 0 24 20"><path d="M0.6 13H5L8.25 1.3L11.5 18.5L14.25 8.4L15.75 13H20" fill="none" stroke="#f7be1e" stroke-width="1.5" stroke-linejoin="round" stroke-linecap="butt"/><circle cx="20.3" cy="13" r="2" fill="#f7be1e"/></svg></div>
<div class="t" style="left:186.00px;top:863.00px;font-size:18px;color:#c4c4c4;transform:translateX(-50%);">S&uuml;d</div>
<div class="t" style="left:186.50px;top:958.00px;font-size:14px;color:#b9b9b9;transform:translateX(-50%);">Soilmoisture</div>
<div class="t" style="left:186.50px;top:983.00px;font-size:35px;font-weight:bold;color:#fff;transform:translateX(-50%) scaleY(1.04);transform-origin:50% 30px">41<span class="u" style="font-size:14px;top:-16px;margin-left:8px;color:#b5b5b5">%</span></div>
<div class="t" style="left:181.50px;top:1030.00px;font-size:14px;transform:translateX(-50%)"><span style="color:#f47c30"><svg class="ar" width="7" height="12" viewBox="0 0 7 12"><path d="M0.3 1.3H6.7M3.5 1.6V12M0.7 4.9L3.5 2.1L6.3 4.9" /></svg> <span class="nm">41</span> %</span><span style="display:inline-block;width:14px"></span><span style="color:#19aef2"><svg class="ar dn" width="7" height="12" viewBox="0 0 7 12"><path d="M0.3 11.3H6.7M3.5 1V10.9M0.7 8.2L3.5 11L6.3 8.2" /></svg> <span class="nm">41</span> %</span></div>
<div class="card" style="left:382px;top:858px;width:375px"></div>
<div class="ic" style="left:391.5px;top:864.5px"><svg width="19" height="19" viewBox="0 0 19 19"><path d="M9.5 0.3C8.6 0.3 8.2 0.9 8.1 1.4C5 2 3.4 4.4 3.3 7.4V10.8C3.2 12.6 1.8 13.8 0.5 14.7V15.3H18.5V14.7C17.2 13.8 15.8 12.6 15.7 10.8V7.4C15.6 4.4 14 2 10.9 1.4C10.8 0.9 10.4 0.3 9.5 0.3Z" fill="#a9aaac"/><path d="M7 16.6H12A2.5 2.3 0 0 1 7 16.6Z" fill="#a9aaac"/></svg></div>
<div class="ic" style="left:725px;top:863.3px"><svg width="24" height="20" viewBox="0 0 24 20"><path d="M0.6 13H5L8.25 1.3L11.5 18.5L14.25 8.4L15.75 13H20" fill="none" stroke="#f7be1e" stroke-width="1.5" stroke-linejoin="round" stroke-linecap="butt"/><circle cx="20.3" cy="13" r="2" fill="#f7be1e"/></svg></div>
<div class="t" style="left:568.50px;top:863.00px;font-size:18px;color:#c4c4c4;transform:translateX(-50%);">Hochbeet</div>
<div class="t" style="left:569.00px;top:958.00px;font-size:14px;color:#b9b9b9;transform:translateX(-50%);">Soilmoisture</div>
<div class="t" style="left:569.00px;top:983.00px;font-size:35px;font-weight:bold;color:#fff;transform:translateX(-50%) scaleY(1.04);transform-origin:50% 30px">52<span class="u" style="font-size:14px;top:-16px;margin-left:8px;color:#b5b5b5">%</span></div>
<div class="t" style="left:564.00px;top:1030.00px;font-size:14px;transform:translateX(-50%)"><span style="color:#f47c30"><svg class="ar" width="7" height="12" viewBox="0 0 7 12"><path d="M0.3 1.3H6.7M3.5 1.6V12M0.7 4.9L3.5 2.1L6.3 4.9" /></svg> <span class="nm">52</span> %</span><span style="display:inline-block;width:14px"></span><span style="color:#19aef2"><svg class="ar dn" width="7" height="12" viewBox="0 0 7 12"><path d="M0.3 11.3H6.7M3.5 1V10.9M0.7 8.2L3.5 11L6.3 8.2" /></svg> <span class="nm">52</span> %</span></div>
<div class="card" style="left:765px;top:858px;width:374px"></div>
<div class="ic" style="left:774.5px;top:864.5px"><svg width="19" height="19" viewBox="0 0 19 19"><path d="M9.5 0.3C8.6 0.3 8.2 0.9 8.1 1.4C5 2 3.4 4.4 3.3 7.4V10.8C3.2 12.6 1.8 13.8 0.5 14.7V15.3H18.5V14.7C17.2 13.8 15.8 12.6 15.7 10.8V7.4C15.6 4.4 14 2 10.9 1.4C10.8 0.9 10.4 0.3 9.5 0.3Z" fill="#a9aaac"/><path d="M7 16.6H12A2.5 2.3 0 0 1 7 16.6Z" fill="#a9aaac"/></svg></div>
<div class="ic" style="left:1107px;top:863.3px"><svg width="24" height="20" viewBox="0 0 24 20"><path d="M0.6 13H5L8.25 1.3L11.5 18.5L14.25 8.4L15.75 13H20" fill="none" stroke="#f7be1e" stroke-width="1.5" stroke-linejoin="round" stroke-linecap="butt"/><circle cx="20.3" cy="13" r="2" fill="#f7be1e"/></svg></div>
<div class="t" style="left:951.00px;top:863.00px;font-size:18px;color:#c4c4c4;transform:translateX(-50%);">Blumenkasten</div>
<div class="t" style="left:951.50px;top:958.00px;font-size:14px;color:#b9b9b9;transform:translateX(-50%);">Soilmoisture</div>
<div class="t" style="left:951.50px;top:983.00px;font-size:35px;font-weight:bold;color:#fff;transform:translateX(-50%) scaleY(1.04);transform-origin:50% 30px">63<span class="u" style="font-size:14px;top:-16px;margin-left:8px;color:#b5b5b5">%</span></div>
<div class="t" style="left:946.50px;top:1030.00px;font-size:14px;transform:translateX(-50%)"><span style="color:#f47c30"><svg class="ar" width="7" height="12" viewBox="0 0 7 12"><path d="M0.3 1.3H6.7M3.5 1.6V12M0.7 4.9L3.5 2.1L6.3 4.9" /></svg> <span class="nm">65</span> %</span><span style="display:inline-block;width:14px"></span><span style="color:#19aef2"><svg class="ar dn" width="7" height="12" viewBox="0 0 7 12"><path d="M0.3 11.3H6.7M3.5 1V10.9M0.7 8.2L3.5 11L6.3 8.2" /></svg> <span class="nm">63</span> %</span></div>
<div class="card" style="left:1147px;top:858px;width:375px"></div>
<div class="ic" style="left:1156.5px;top:864.5px"><svg width="19" height="19" viewBox="0 0 19 19"><path d="M9.5 0.3C8.6 0.3 8.2 0.9 8.1 1.4C5 2 3.4 4.4 3.3 7.4V10.8C3.2 12.6 1.8 13.8 0.5 14.7V15.3H18.5V14.7C17.2 13.8 15.8 12.6 15.7 10.8V7.4C15.6 4.4 14 2 10.9 1.4C10.8 0.9 10.4 0.3 9.5 0.3Z" fill="#a9aaac"/><path d="M7 16.6H12A2.5 2.3 0 0 1 7 16.6Z" fill="#a9aaac"/></svg></div>
<div class="ic" style="left:1490px;top:863.3px"><svg width="24" height="20" viewBox="0 0 24 20"><path d="M0.6 13H5L8.25 1.3L11.5 18.5L14.25 8.4L15.75 13H20" fill="none" stroke="#f7be1e" stroke-width="1.5" stroke-linejoin="round" stroke-linecap="butt"/><circle cx="20.3" cy="13" r="2" fill="#f7be1e"/></svg></div>
<div class="t" style="left:1333.50px;top:863.00px;font-size:18px;color:#c4c4c4;transform:translateX(-50%);">Baum</div>
<div class="t" style="left:1334.00px;top:958.00px;font-size:14px;color:#b9b9b9;transform:translateX(-50%);">Soilmoisture</div>
<div class="t" style="left:1334.00px;top:983.00px;font-size:35px;font-weight:bold;color:#fff;transform:translateX(-50%) scaleY(1.04);transform-origin:50% 30px">30<span class="u" style="font-size:14px;top:-16px;margin-left:8px;color:#b5b5b5">%</span></div>
<div class="t" style="left:1329.00px;top:1030.00px;font-size:14px;transform:translateX(-50%)"><span style="color:#f47c30"><svg class="ar" width="7" height="12" viewBox="0 0 7 12"><path d="M0.3 1.3H6.7M3.5 1.6V12M0.7 4.9L3.5 2.1L6.3 4.9" /></svg> <span class="nm">31</span> %</span><span style="display:inline-block;width:14px"></span><span style="color:#19aef2"><svg class="ar dn" width="7" height="12" viewBox="0 0 7 12"><path d="M0.3 11.3H6.7M3.5 1V10.9M0.7 8.2L3.5 11L6.3 8.2" /></svg> <span class="nm">30</span> %</span></div>
<div class="card" style="left:1530px;top:858px;width:374px"></div>
<div class="ic" style="left:1539.5px;top:864.5px"><svg width="19" height="19" viewBox="0 0 19 19"><path d="M9.5 0.3C8.6 0.3 8.2 0.9 8.1 1.4C5 2 3.4 4.4 3.3 7.4V10.8C3.2 12.6 1.8 13.8 0.5 14.7V15.3H18.5V14.7C17.2 13.8 15.8 12.6 15.7 10.8V7.4C15.6 4.4 14 2 10.9 1.4C10.8 0.9 10.4 0.3 9.5 0.3Z" fill="#a9aaac"/><path d="M7 16.6H12A2.5 2.3 0 0 1 7 16.6Z" fill="#a9aaac"/></svg></div>
<div class="ic" style="left:1872px;top:863.3px"><svg width="24" height="20" viewBox="0 0 24 20"><path d="M0.6 13H5L8.25 1.3L11.5 18.5L14.25 8.4L15.75 13H20" fill="none" stroke="#f7be1e" stroke-width="1.5" stroke-linejoin="round" stroke-linecap="butt"/><circle cx="20.3" cy="13" r="2" fill="#f7be1e"/></svg></div>
<div class="t" style="left:1716.00px;top:863.00px;font-size:18px;color:#c4c4c4;transform:translateX(-50%);">Hecke Nordost</div>
<div class="t" style="left:1716.50px;top:958.00px;font-size:14px;color:#b9b9b9;transform:translateX(-50%);">Soilmoisture</div>
<div class="t" style="left:1716.50px;top:983.00px;font-size:35px;font-weight:bold;color:#fff;transform:translateX(-50%) scaleY(1.04);transform-origin:50% 30px">35<span class="u" style="font-size:14px;top:-16px;margin-left:8px;color:#b5b5b5">%</span></div>
<div class="t" style="left:1711.50px;top:1030.00px;font-size:14px;transform:translateX(-50%)"><span style="color:#f47c30"><svg class="ar" width="7" height="12" viewBox="0 0 7 12"><path d="M0.3 1.3H6.7M3.5 1.6V12M0.7 4.9L3.5 2.1L6.3 4.9" /></svg> <span class="nm">36</span> %</span><span style="display:inline-block;width:14px"></span><span style="color:#19aef2"><svg class="ar dn" width="7" height="12" viewBox="0 0 7 12"><path d="M0.3 11.3H6.7M3.5 1V10.9M0.7 8.2L3.5 11L6.3 8.2" /></svg> <span class="nm">35</span> %</span></div>
<div id="foot"></div>
<div class="abs" style="left:30px;top:1162px;width:4px;height:5px;background:#1eb8cf"></div>
<div class="abs" style="left:35px;top:1149px;width:4px;height:18px;background:#1eb8cf"></div>
<div class="abs" style="left:40px;top:1158px;width:4px;height:9px;background:#1eb8cf"></div>
<div class="abs" style="left:45.5px;top:1155px;width:4.5px;height:12px;background:#1eb8cf"></div>
<div class="abs" style="left:10px;top:1187px;width:65px;height:2px;background:#1ec3dc"></div>
<div class="abs" style="left:95px;top:1153px;width:18px;height:2px;background:#fff"></div>
<div class="abs" style="left:95px;top:1158px;width:18px;height:2px;background:#fff"></div>
<div class="abs" style="left:95px;top:1163px;width:18px;height:2px;background:#fff"></div>
<div class="abs" style="left:139px;top:1148px;width:100px;height:32px;border-radius:4px;background:#212328"></div>
<div class="t" style="left:147.5px;top:1157px;font-size:13px;color:#fff;letter-spacing:-0.35px">Daily</div>
<svg class="abs" style="left:220.5px;top:1161px" width="10" height="6" viewBox="0 0 10 6"><path d="M0 0H9.6L4.8 5.4Z" fill="#9a9ca3"/></svg>
<div class="abs" style="left:856px;top:1154px;width:30px;height:30px;background:#1eb8cf"></div>
<svg class="abs" style="left:868px;top:1165px" width="8" height="10" viewBox="0 0 8 10"><path d="M5.5 1L2 5L5.5 9" fill="none" stroke="#fff" stroke-width="1.6"/></svg>
<div class="abs" style="left:890px;top:1154px;width:125px;height:29px;border-radius:4px;background:#fff"></div>
<div class="t" style="left:901px;top:1161px;font-size:14px;color:#555a68">Nov/22/2020</div>
<div class="ic" style="left:991.5px;top:1160px"><svg width="17" height="17" viewBox="0 0 17 17"><rect x="0.5" y="2.5" width="15.5" height="13.5" rx="1.2" fill="none" stroke="#8a8a8a" stroke-width="1"/><path d="M0.8 5.5H15.8" stroke="#c8c8c8" stroke-width="1.6"/><path d="M4 0.5V3.5M12.5 0.5V3.5" stroke="#8a8a8a" stroke-width="1"/></svg></div>
<div class="abs" style="left:1019px;top:1154px;width:30px;height:30px;background:#8f8f8f;border:1px solid #d4d4d4"></div>
<svg class="abs" style="left:1031px;top:1165px" width="8" height="10" viewBox="0 0 8 10"><path d="M2 1L5.5 5L2 9" fill="none" stroke="#fff" stroke-width="1.6"/></svg>
<div class="abs" style="left:1824px;top:1149px;width:70px;height:30px;border:1px solid #b4b4b4"></div>
<div class="t" style="left:1859px;top:1158px;font-size:13px;color:#fff;letter-spacing:-0.3px;transform:translateX(-50%)">Export</div>
<div id="sb"></div>
<svg class="abs" style="left:1904px;top:60px" width="16" height="1140" viewBox="0 0 16 1140">
<path d="M4 11.5H12L8 7Z" fill="#a3a3a3"/>
<rect x="2" y="16" width="12" height="136" fill="#a8a8a8"/>
<path d="M4 1128.5H12L8 1133Z" fill="#505050"/>
</svg>
<svg class="abs" style="left:1908px;top:88px" width="12" height="20" viewBox="0 0 12 20"><path d="M0.5 0.5V16L4 12.6L6.6 18.6L9 17.6L6.5 11.8H11.2Z" fill="#fff" stroke="#000" stroke-width="1"/></svg>
</body></html>
